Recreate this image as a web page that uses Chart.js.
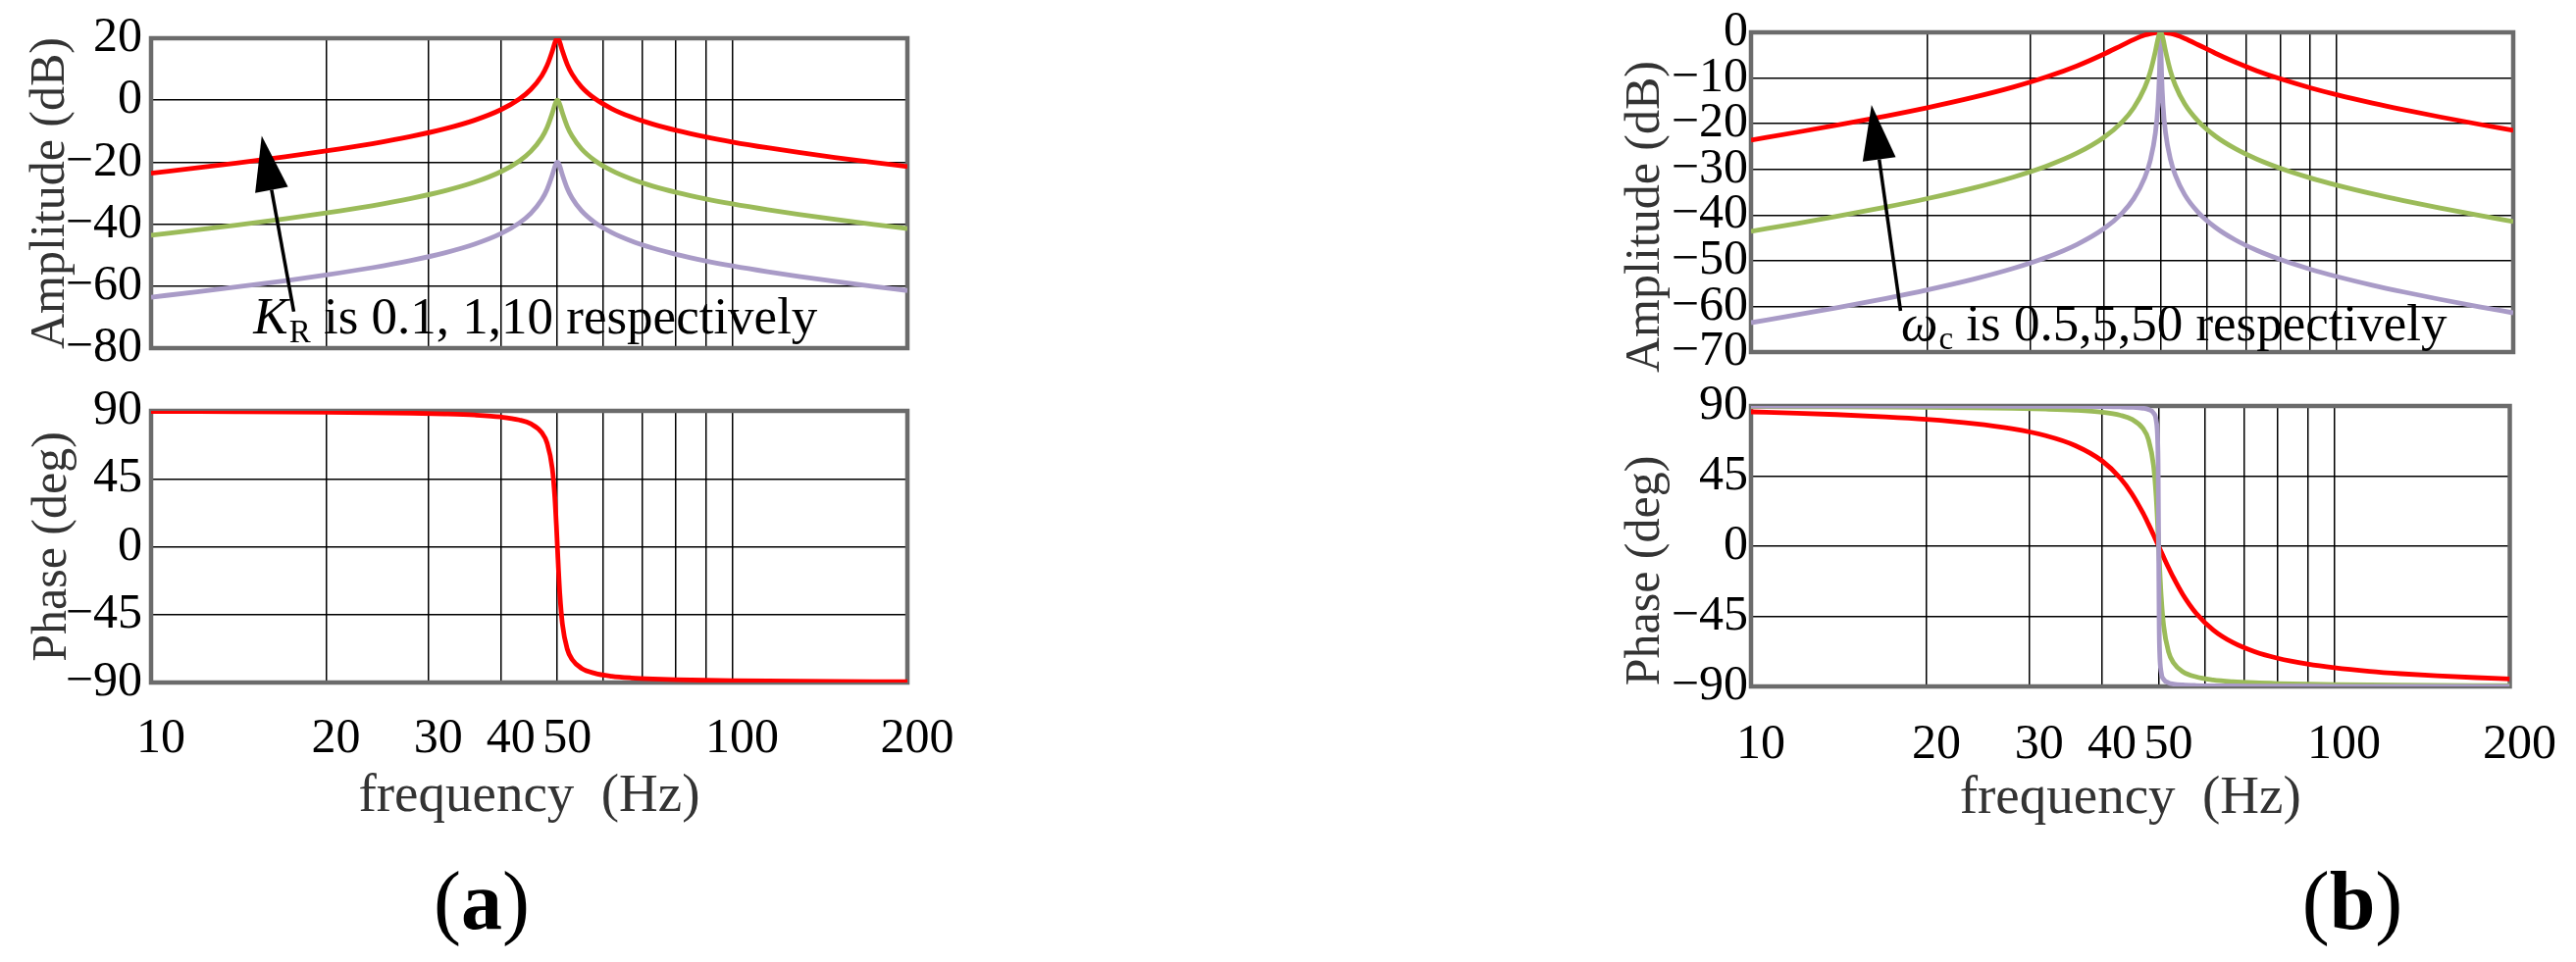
<!DOCTYPE html>
<html>
<head>
<meta charset="utf-8">
<script src="https://cdn.jsdelivr.net/npm/chart.js@4.4.1/dist/chart.umd.min.js"></script>
<style>
    body { margin: 0; background: #fff; }
    #wrap { position: relative; width: 2626px; height: 981px; overflow: hidden; }
    canvas { position: absolute; }
    .tag { position: absolute; top: 877px; width: 200px; text-align: center;
           font: 84px/84px 'Liberation Serif', 'Times New Roman', serif; color: #000; }
</style>
</head>
<body>
<div id="wrap">
    <canvas id="ampA" width="1000" height="400" style="left:0;top:0"></canvas>
    <canvas id="phaseA" width="1000" height="480" style="left:0;top:380px"></canvas>
    <canvas id="ampB" width="1026" height="400" style="left:1600px;top:0"></canvas>
    <canvas id="phaseB" width="1026" height="480" style="left:1600px;top:380px"></canvas>
    <div class="tag" style="left:391px">(<b>a</b>)</div>
    <div class="tag" style="left:2298px">(<b>b</b>)</div>
</div>
<script>
// frequency points (Hz), shared by every curve
const freq = [10, 12, 14, 17, 20, 24, 28, 32, 36, 40, 43, 45, 47, 48, 49, 49.5, 49.8, 49.9, 50,
    50.1, 50.2, 50.5, 51, 52, 53, 55, 58, 62, 67, 73, 80, 90, 100, 115, 130, 150, 175, 200];

const xTickValues = [10, 20, 30, 40, 50, 60, 70, 80, 90, 100, 200];
const xTickLabels = [10, 20, 30, 40, 50, 100, 200];
const ampTicksA = [20, 0, -20, -40, -60, -80];
const ampTicksB = [0, -10, -20, -30, -40, -50, -60, -70];
const phaseTicks = [90, 45, 0, -45, -90];

// (a) amplitude, K_R = 10, 1, 0.1
const ampA_K10 = [-23.57, -21.82, -20.29, -18.25, -16.39, -14.05, -11.71, -9.25, -6.46, -3.03, 0.39, 3.47, 7.92, 11.2,
    15.83, 18.54, 19.73, 19.93, 20, 19.93, 19.73, 18.57, 15.94, 11.5, 8.41, 4.32, 0.53, -2.71, -5.43, -7.74,
    -9.73, -11.85, -13.47, -15.36, -16.85, -18.46, -20.09, -21.42];
const ampA_K1 = [-43.57, -41.82, -40.29, -38.25, -36.39, -34.05, -31.71, -29.25, -26.46, -23.03, -19.61, -16.53, -12.08, -8.8,
    -4.17, -1.46, -0.27, -0.07, 0, -0.07, -0.27, -1.43, -4.06, -8.5, -11.59, -15.68, -19.47, -22.71, -25.43, -27.74,
    -29.73, -31.85, -33.47, -35.36, -36.85, -38.46, -40.09, -41.42];
const ampA_K01 = [-63.57, -61.82, -60.29, -58.25, -56.39, -54.05, -51.71, -49.25, -46.46, -43.03, -39.61, -36.53, -32.08, -28.8,
    -24.17, -21.46, -20.27, -20.07, -20, -20.07, -20.27, -21.43, -24.06, -28.5, -31.59, -35.68, -39.47, -42.71, -45.43, -47.74,
    -49.73, -51.85, -53.47, -55.36, -56.85, -58.46, -60.09, -61.42];
// (a) phase (same for all K_R)
const phaseA = [89.62, 89.54, 89.45, 89.3, 89.13, 88.86, 88.51, 88.02, 87.28, 85.95, 84.0, 81.43, 75.58, 68.7,
    51.78, 32.27, 14.14, 7.17, 0, -7.16, -14.08, -32.02, -51.21, -67.9, -74.73, -80.53, -83.9, -85.8, -86.93, -87.65,
    -88.13, -88.53, -88.78, -89.02, -89.18, -89.32, -89.43, -89.51];

// (b) amplitude, wc = 50, 5, 0.5
const ampB_wc50 = [-23.59, -21.85, -20.33, -18.31, -16.49, -14.21, -12.0, -9.73, -7.34, -4.77, -2.8, -1.58, -0.61, -0.28,
    -0.07, -0.02, 0, 0, 0, 0, 0, -0.02, -0.07, -0.26, -0.55, -1.33, -2.73, -4.56, -6.51, -8.41,
    -10.16, -12.12, -13.66, -15.48, -16.94, -18.52, -20.13, -21.45];
const ampB_wc5 = [-43.57, -41.82, -40.29, -38.25, -36.39, -34.05, -31.71, -29.25, -26.46, -23.03, -19.61, -16.53, -12.08, -8.8,
    -4.17, -1.46, -0.27, -0.07, 0, -0.07, -0.27, -1.43, -4.06, -8.5, -11.59, -15.68, -19.47, -22.71, -25.43, -27.74,
    -29.73, -31.85, -33.47, -35.36, -36.85, -38.46, -40.09, -41.42];
const ampB_wc05 = [-63.57, -61.82, -60.29, -58.25, -56.39, -54.04, -51.71, -49.24, -46.45, -43.01, -39.57, -36.43, -31.8, -28.19,
    -22.1, -16.11, -8.66, -4.12, 0, -4.11, -8.63, -16.03, -21.93, -27.84, -31.28, -35.56, -39.43, -42.68, -45.42, -47.73,
    -49.72, -51.84, -53.46, -55.36, -56.85, -58.46, -60.08, -61.42];
// (b) phase
const phaseB_wc50 = [86.21, 85.37, 84.48, 83.02, 81.38, 78.77, 75.44, 70.96, 64.53, 54.74, 43.58, 33.55, 21.26, 14.39,
    7.24, 3.61, 1.44, 0.72, 0, -0.72, -1.44, -3.58, -7.09, -13.85, -20.12, -30.96, -43.11, -53.72, -61.81, -67.67,
    -71.92, -75.65, -78.02, -80.32, -81.82, -83.19, -84.34, -85.15];
const phaseB_wc5 = [89.62, 89.54, 89.45, 89.3, 89.13, 88.86, 88.51, 88.02, 87.28, 85.95, 84.0, 81.43, 75.58, 68.7,
    51.78, 32.27, 14.14, 7.17, 0, -7.16, -14.08, -32.02, -51.21, -67.9, -74.73, -80.53, -83.9, -85.8, -86.93, -87.65,
    -88.13, -88.53, -88.78, -89.02, -89.18, -89.32, -89.43, -89.51];
const phaseB_wc05 = [89.96, 89.95, 89.94, 89.93, 89.91, 89.89, 89.85, 89.8, 89.73, 89.59, 89.4, 89.14, 88.53, 87.77,
    85.5, 81.0, 68.34, 51.51, 0, -51.46, -68.27, -80.91, -85.41, -87.68, -88.44, -89.04, -89.39, -89.58, -89.69, -89.76,
    -89.81, -89.85, -89.88, -89.9, -89.92, -89.93, -89.94, -89.95];

const RED = '#ff0000', GREEN = '#9bbb59', PURPLE = '#a99bc7';
const SERIF = "'Liberation Serif', 'Times New Roman', serif";

function series(values, color) {
    return {
        data: freq.map((f, i) => ({ x: f, y: values[i] })),
        borderColor: color,
        borderWidth: 4.8,
        pointRadius: 0,
        cubicInterpolationMode: 'monotone',
        fill: false
    };
}

// grey frame round the plot area
const framePlugin = {
    id: 'frame',
    beforeDatasetsDraw(chart) {
        const { ctx, chartArea: a } = chart;
        ctx.save();
        ctx.strokeStyle = '#6b6b6b';
        ctx.lineWidth = 4.5;
        ctx.strokeRect(a.left, a.top, a.right - a.left, a.bottom - a.top);
        ctx.restore();
    }
};

// arrow + "symbol_sub is ... respectively" note
const notePlugin = {
    id: 'note',
    afterDatasetsDraw(chart, args, opts) {
        if (!opts || !opts.tip) return;
        const { ctx, scales: { x, y } } = chart;
        const tx = x.getPixelForValue(opts.tail[0]), ty = y.getPixelForValue(opts.tail[1]);
        const hx = x.getPixelForValue(opts.tip[0]), hy = y.getPixelForValue(opts.tip[1]);
        const ang = Math.atan2(hy - ty, hx - tx);
        const len = 56, half = 17;
        const bx = hx - len * Math.cos(ang), by = hy - len * Math.sin(ang);
        ctx.save();
        ctx.strokeStyle = '#000';
        ctx.fillStyle = '#000';
        ctx.lineWidth = 3.5;
        ctx.beginPath();
        ctx.moveTo(tx, ty);
        ctx.lineTo(bx, by);
        ctx.stroke();
        ctx.beginPath();
        ctx.moveTo(hx, hy);
        ctx.lineTo(bx + half * Math.sin(ang), by - half * Math.cos(ang));
        ctx.lineTo(bx - half * Math.sin(ang), by + half * Math.cos(ang));
        ctx.closePath();
        ctx.fill();

        let px = x.getPixelForValue(opts.at[0]);
        const py = y.getPixelForValue(opts.at[1]);
        ctx.textAlign = 'left';
        ctx.textBaseline = 'alphabetic';
        ctx.font = 'italic 53px ' + SERIF;
        ctx.fillText(opts.symbol, px, py);
        px += ctx.measureText(opts.symbol).width + 1;
        ctx.font = '33px ' + SERIF;
        ctx.fillText(opts.sub, px, py + 9);
        px += ctx.measureText(opts.sub).width;
        ctx.font = '53px ' + SERIF;
        ctx.fillText(opts.text, px, py);
        ctx.restore();
    }
};

function buildChart(id, datasets, yTicks, box) {
    const tickFont = { family: SERIF, size: 50 };
    return new Chart(document.getElementById(id), {
        type: 'line',
        data: { datasets },
        options: {
            responsive: false,
            animation: false,
            events: [],
            layout: { padding: { top: box.top, right: box.right, left: 0, bottom: 0 } },
            plugins: {
                legend: { display: false },
                tooltip: { enabled: false },
                note: box.note || {}
            },
            scales: {
                x: {
                    type: 'logarithmic',
                    min: 10,
                    max: 200,
                    afterBuildTicks: s => { s.ticks = xTickValues.map(v => ({ value: v })); },
                    afterFit: s => { s.height = box.xHeight; },
                    grid: { color: '#000', lineWidth: 1.5, drawTicks: false },
                    border: { display: false },
                    ticks: {
                        display: box.xLabels,
                        autoSkip: false,
                        maxRotation: 0,
                        minRotation: 0,
                        labelOffset: 10,
                        padding: box.xPad || 0,
                        color: '#000',
                        font: tickFont,
                        callback: v => xTickLabels.includes(v) ? String(v) : ''
                    },
                    title: {
                        display: box.xLabels,
                        text: 'frequency  (Hz)',
                        color: '#333',
                        font: { family: SERIF, size: 55 },
                        padding: { top: 0, bottom: box.xTitlePad || 0 }
                    }
                },
                y: {
                    min: yTicks[yTicks.length - 1],
                    max: yTicks[0],
                    afterBuildTicks: s => { s.ticks = yTicks.map(v => ({ value: v })); },
                    afterFit: s => { s.width = box.yWidth; },
                    grid: { color: '#000', lineWidth: 1.5, drawTicks: false },
                    border: { display: false },
                    ticks: {
                        autoSkip: false,
                        padding: box.yPad,
                        color: '#000',
                        font: tickFont,
                        callback: v => String(v).replace('-', '\u2212')
                    },
                    title: {
                        display: true,
                        text: box.yTitle,
                        color: '#333',
                        font: { family: SERIF, size: 50 },
                        padding: { top: box.yTitlePad, bottom: 0 }
                    }
                }
            }
        },
        plugins: [framePlugin, notePlugin]
    });
}

buildChart('ampA', [series(ampA_K01, PURPLE), series(ampA_K1, GREEN), series(ampA_K10, RED)], ampTicksA, {
    top: 34, right: 75, yWidth: 154, xHeight: 45, xLabels: false, yPad: 9, yTitlePad: 22,
    yTitle: 'Amplitude (dB)',
    note: { tail: [17.6, -68.2], tip: [15.5, -11.5], at: [15.0, -75.3], symbol: 'K', sub: 'R', text: ' is 0.1, 1,10 respectively' }
});
buildChart('phaseA', [series(phaseA, RED)], phaseTicks, {
    top: 34, right: 75, yWidth: 154, xHeight: 164, xLabels: true, xPad: 28, xTitlePad: 14, yPad: 9, yTitlePad: 24,
    yTitle: 'Phase (deg)'
});
// panel (b) titles sit a little below the axis middle, hence the trailing spaces
buildChart('ampB', [series(ampB_wc5, GREEN), series(ampB_wc05, PURPLE), series(ampB_wc50, RED)], ampTicksB, {
    top: 33, right: 64, yWidth: 185, xHeight: 41, xLabels: false, yPad: 3, yTitlePad: 48,
    yTitle: 'Amplitude (dB)    ',
    note: { tail: [18.0, -61], tip: [16.06, -15.9], at: [18.04, -67.5], symbol: '\u03c9', sub: 'c', text: ' is 0.5,5,50 respectively' }
});
buildChart('phaseB', [series(phaseB_wc05, PURPLE), series(phaseB_wc5, GREEN), series(phaseB_wc50, RED)], phaseTicks, {
    top: 34, right: 64, yWidth: 185, xHeight: 160, xLabels: true, xPad: 30, xTitlePad: 12, yPad: 3, yTitlePad: 48,
    yTitle: 'Phase (deg)    '
});
</script>
</body>
</html>
